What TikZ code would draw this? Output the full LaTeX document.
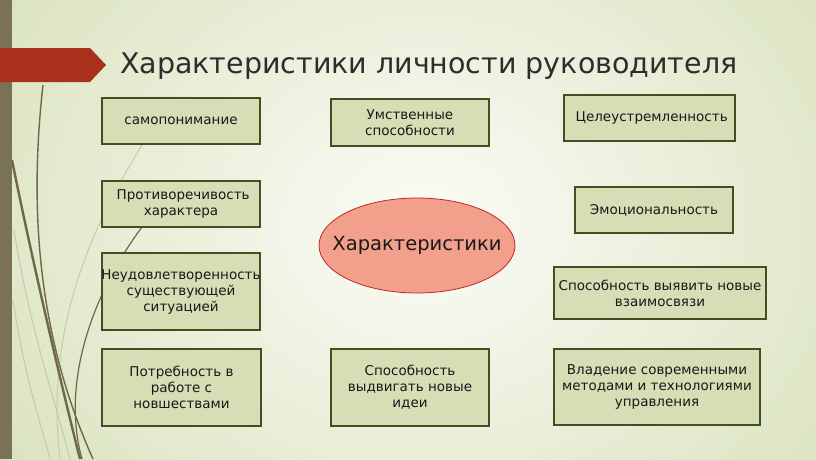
\documentclass[tikz,border=0pt]{standalone}
\usepackage{fontspec}
\setmainfont{DejaVu Sans}
\usetikzlibrary{shapes.geometric}
\definecolor{bgin}{RGB}{251,252,247}
\definecolor{bgout}{RGB}{214,224,184}
\definecolor{barc}{RGB}{122,114,88}
\definecolor{redc}{RGB}{168,48,28}
\definecolor{boxfill}{RGB}{213,222,180}
\definecolor{boxline}{RGB}{68,78,34}
\definecolor{ellfill}{RGB}{242,160,140}
\definecolor{ellline}{RGB}{190,40,40}
\definecolor{wispd}{RGB}{110,103,72}
\definecolor{wispl}{RGB}{196,202,170}
\definecolor{titlec}{RGB}{45,45,45}
\tikzset{
  boxnode/.style={draw=boxline, line width=1.6pt, fill=boxfill, rectangle,
    inner sep=2pt, align=center, font=\fontsize{13.5}{16}\selectfont, text=black!90},
  ellshape/.style={draw=ellline, line width=0.8pt, fill=ellfill},
  elltext/.style={inner sep=0pt, font=\fontsize{19.5}{22}\selectfont, text=black!90},
  wispthick/.style={draw=wispd, line width=2.4pt},
  wispmid/.style={draw=wispd, line width=1.4pt},
  wisplight/.style={draw=wispl, line width=1pt}
}
\begin{document}
\begin{tikzpicture}[x=1pt,y=-1pt]
\useasboundingbox (0,0) rectangle (816,459);
% background
\shade[inner color=bgin, outer color=bgout] (-150,-250) rectangle (1000,700);
% decorative wisps
\draw[wisplight] (142,145) .. controls (90,230) and (45,330) .. (60,459);
\draw[wisplight] (14,230) .. controls (30,330) and (55,400) .. (70,459);
\draw[wisplight] (13,300) .. controls (25,380) and (40,420) .. (50,459);
\draw[wispmid] (43,85) .. controls (30,200) and (35,330) .. (93,459);
\draw[wispthick] (12,160) .. controls (30,250) and (60,380) .. (80,459);
\draw[wispmid, line width=1.2pt] (142,227) .. controls (95,290) and (60,380) .. (82,459);
% left bar
\fill[barc] (0,0) rectangle (12,459);
% red arrow banner
\fill[redc] (0,48) -- (90,48) -- (106,65) -- (90,82) -- (0,82) -- cycle;
% title
\node[anchor=base west, inner sep=0pt, text=titlec, font=\fontsize{28.5}{34}\selectfont] (title) at (120,73) {Характеристики личности руководителя};
% boxes
\node[boxnode, minimum width=158pt, minimum height=46pt] (b1) at (181,121) {самопонимание};
\node[boxnode, minimum width=158pt, minimum height=46pt] (b2) at (181,204) {\ Противоречивость\\характера};
\node[boxnode, minimum width=158pt, minimum height=77pt] (b3) at (181,291.5) {\makebox[150pt][c]{Неудовлетворенность}\\существующей\\ситуацией};
\node[boxnode, minimum width=159pt, minimum height=77pt] (b4) at (181.5,387.5) {Потребность в\\работе с\\новшествами};
\node[boxnode, minimum width=158pt, minimum height=47pt] (m1) at (410,122.5) {Умственные\\способности};
\node[boxnode, minimum width=158pt, minimum height=77pt] (m3) at (410,387.5) {Способность\\выдвигать новые\\идеи};
\node[boxnode, minimum width=171pt, minimum height=46pt] (r1) at (649.5,118) {\ Целеустремленность};
\node[boxnode, minimum width=158pt, minimum height=46pt] (r2) at (654,210) {Эмоциональность};
\node[boxnode, minimum width=212pt, minimum height=52pt] (r3) at (660,293) {Способность выявить новые\\взаимосвязи};
\node[boxnode, minimum width=206pt, minimum height=76pt] (r4) at (657,387) {Владение современными\\методами и технологиями\\управления};
% central ellipse
\path[ellshape] (417,245.5) ellipse [x radius=98, y radius=47.5];
\node[elltext] (c) at (417,245.5) {Характеристики};
\end{tikzpicture}
\end{document}
